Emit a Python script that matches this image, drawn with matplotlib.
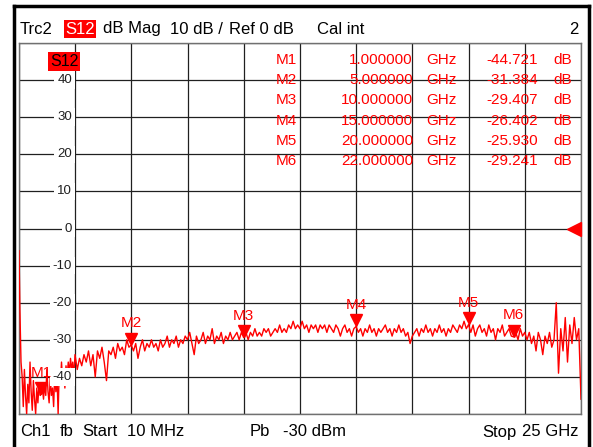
import numpy as np
import matplotlib
matplotlib.use("Agg")
import matplotlib.pyplot as plt
import matplotlib.transforms as mtransforms
from matplotlib.lines import Line2D

plt.rcParams['font.family'] = ['Liberation Sans', 'DejaVu Sans']

# sweep 10 MHz .. 25 GHz, trace values (dB)
seg_a = [-6, -22, -36, -40, -48, -38, -45, -50, -42, -47, -36, -44, -49, -41, -46, -50, -43,
         -47, -42, -45, -44.7, -43, -46, -42, -45, -38, -44, -47, -40, -45, -43, -48, -39, -44,
         -40, -50, -38, -42, -36, -41, -38, -43, -37, -40, -36, -39, -35, -38, -36, -40, -34]
seg_b = [-38, -35, -37, -34, -36, -33, -37, -34, -40, -33, -35, -32, -36, -41, -33, -34, -32,
         -35, -31, -33, -32, -34, -30, -32, -31.4]
seg_c = [-33, -31, -35, -32, -30, -33, -31, -32, -30, -32, -31, -33, -30, -32, -31, -29, -32,
         -30, -31, -29, -32, -30, -31, -29, -30, -28, -31, -34, -29, -31, -30, -28, -31, -29,
         -30, -27, -31, -29, -30, -28, -31, -29, -30, -28, -30, -29, -28, -30, -28, -29.4]
seg_d = [-28, -30, -28, -29, -27, -29, -28, -29, -27, -28, -27, -29, -28, -27, -28, -26, -28,
         -27, -28, -26, -27, -25, -27, -26, -27, -25, -27, -26, -28, -26, -27, -26, -28, -26,
         -27, -26, -28, -26, -27, -28, -26, -27, -29, -27, -26, -28, -27, -29, -27, -26.4]
seg_e = [-28, -27, -29, -27, -28, -26, -28, -27, -29, -27, -28, -27, -26, -28, -27, -29, -27,
         -28, -26, -28, -27, -29, -28, -31, -29, -28, -27, -29, -27, -28, -26, -28, -27, -29,
         -27, -28, -26, -28, -27, -29, -27, -28, -26, -27, -28, -26, -27, -25, -27, -25.9]
seg_f = [-28, -26, -29, -27, -26, -28, -27, -29, -26, -28, -27, -30, -27, -28, -26, -29, -28,
         -27, -29, -29.2, -28, -30, -27, -29, -28]
seg_g = [-30, -28, -31, -29, -33, -28, -30, -34, -29, -31, -28, -32, -30, -20, -39, -27, -33,
         -24, -36, -26, -31, -24, -30, -27, -46]

trace_ghz = np.concatenate([[0.01], np.arange(1, 51) * 0.05,
                            np.arange(26, 51) * 0.1, np.arange(51, 101) * 0.1,
                            np.arange(101, 151) * 0.1, np.arange(151, 201) * 0.1,
                            np.arange(201, 226) * 0.1, np.arange(226, 251) * 0.1])
trace_db = np.array(seg_a + seg_b + seg_c + seg_d + seg_e + seg_f + seg_g, dtype=float)

marker_names = ["M1", "M2", "M3", "M4", "M5", "M6"]
marker_ghz = [1.0, 5.0, 10.0, 15.0, 20.0, 22.0]
marker_db = [-44.721, -31.384, -29.407, -26.402, -25.930, -29.241]
ytick_vals = [40, 30, 20, 10, 0, -10, -20, -30, -40]

W, H = 593, 447
fig = plt.figure(figsize=(W / 100, H / 100), dpi=100)
fig.patch.set_facecolor('white')

def px(x, y):
    return x / W, 1 - y / H

ax = fig.add_axes([19 / W, (H - 414) / H, 562 / W, 371 / H])
ax.set_xlim(0.01, 25)
ax.set_ylim(-50, 50)
ax.set_xticks(np.linspace(0.01, 25, 11))
ax.set_yticks(np.arange(-50, 51, 10))
ax.tick_params(length=0, labelbottom=False, labelleft=False)
ax.grid(True, color='#202020', lw=0.9)
ax.set_axisbelow(True)
for s in ax.spines.values():
    s.set_color('#707070')
    s.set_linewidth(1.0)

red = '#ff0000'
ax.plot(trace_ghz, trace_db, color=red, lw=1.0, zorder=3)

# y labels sitting on the grid
tr = mtransforms.blended_transform_factory(ax.transAxes, ax.transData)
for v in ytick_vals:
    ax.text(53 / 562, v, str(v), transform=tr, ha='right', va='center', fontsize=9.5,
            color='#202020', zorder=4,
            bbox=dict(facecolor='white', edgecolor='none', pad=2))

ax.text(45 / 562, 45, "S12", transform=tr, ha='center', va='center', fontsize=11.5,
        color='black', bbox=dict(facecolor=red, edgecolor='none', pad=1.5))

# markers
ms = 9
up = mtransforms.offset_copy(ax.transData, fig=fig, y=ms / 2, units='points')
for name, f, v in zip(marker_names, marker_ghz, marker_db):
    ax.plot([f], [v], marker='v', ms=ms, color=red, mec=red, transform=up, zorder=5)
    ax.annotate(name, (f, v), xytext=(0, ms + 1.5), textcoords='offset points',
                ha='center', va='bottom', fontsize=11, color=red, zorder=5)

# reference level arrow
left = mtransforms.offset_copy(ax.transData, fig=fig, x=-5, units='points')
ax.plot([25], [0], marker='<', ms=10, color=red, transform=left, clip_on=False, zorder=5)

# marker table
for i, (name, f, v) in enumerate(zip(marker_names, marker_ghz, marker_db)):
    yb = 64 + i * 20.2
    fig.text(*px(297, yb), name, ha='right', va='baseline', fontsize=11, color=red)
    fig.text(*px(413, yb), "%.6f" % f, ha='right', va='baseline', fontsize=11, color=red)
    fig.text(*px(441, yb), "GHz", ha='center', va='baseline', fontsize=11, color=red)
    fig.text(*px(538, yb), "%.3f" % v, ha='right', va='baseline', fontsize=11, color=red)
    fig.text(*px(572, yb), "dB", ha='right', va='baseline', fontsize=11, color=red)

# header
hy = 33.5
fig.text(*px(20, hy), "Trc2", fontsize=12, va='baseline')
fig.text(*px(65, hy), "S12", fontsize=12, va='baseline', color='white',
         bbox=dict(facecolor=red, edgecolor='none', pad=1))
fig.text(*px(103, hy), "dB Mag", fontsize=12, va='baseline')
fig.text(*px(170, hy), "10 dB /", fontsize=12, va='baseline')
fig.text(*px(229, hy), "Ref 0 dB", fontsize=12, va='baseline')
fig.text(*px(317, hy), "Cal int", fontsize=12, va='baseline')
fig.text(*px(579, hy), "2", fontsize=12, va='baseline', ha='right')

# footer
fy = 436.5
fig.text(*px(20, fy), "Ch1", fontsize=12, va='baseline')
fig.text(*px(60, fy), "fb", fontsize=12, va='baseline')
fig.text(*px(82, fy), "Start", fontsize=12, va='baseline')
fig.text(*px(127, fy), "10 MHz", fontsize=12, va='baseline')
fig.text(*px(250, fy), "Pb", fontsize=12, va='baseline')
fig.text(*px(283, fy), "-30 dBm", fontsize=12, va='baseline')
fig.text(*px(482, fy), "Stop", fontsize=12, va='baseline')
fig.text(*px(578, fy), "25 GHz", fontsize=12, va='baseline', ha='right')

# instrument window frame
fig.add_artist(Line2D([14 / W, 14 / W], [0, px(0, 6)[1]], color='black', lw=2.5))
fig.add_artist(Line2D([14 / W, 589 / W], [px(0, 6)[1]] * 2, color='black', lw=2.5))
fig.add_artist(Line2D([588.5 / W, 588.5 / W], [0, px(0, 6)[1]], color='black', lw=2.5))

fig.savefig("out.png", dpi=100)
